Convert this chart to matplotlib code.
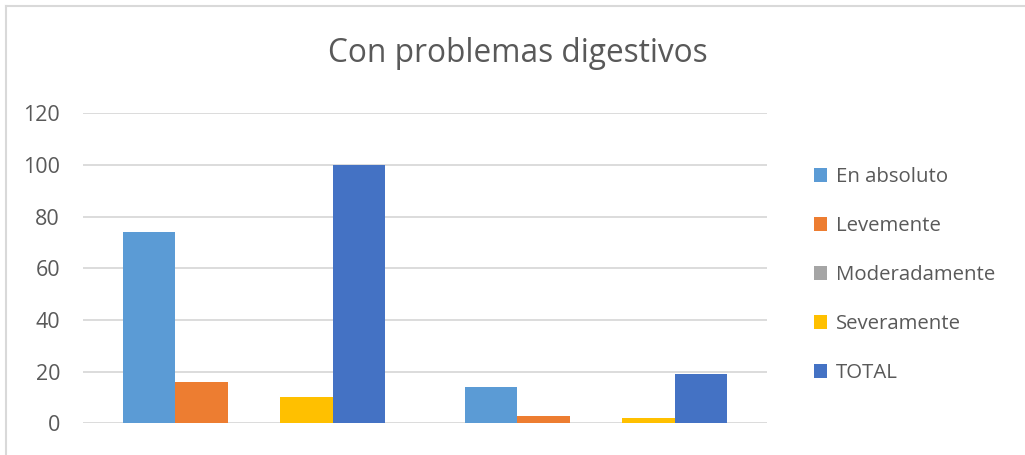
import numpy as np
import matplotlib.pyplot as plt
from matplotlib.lines import Line2D

plt.rcParams['font.family'] = ['Open Sans', 'DejaVu Sans']

# datos por grupo
grupos = ['', '']
series = ['En absoluto', 'Levemente', 'Moderadamente', 'Severamente', 'TOTAL']
en_absoluto = [74, 14]
levemente = [16, 3]
moderadamente = [0, 0]
severamente = [10, 2]
total = [100, 19]
valores = [en_absoluto, levemente, moderadamente, severamente, total]
colores = ['#5B9BD5', '#ED7D31', '#A5A5A5', '#FFC000', '#4472C4']

texto = '#595959'

fig = plt.figure(figsize=(10.25, 4.55), dpi=100)
ax = fig.add_axes([83 / 1025, 31.7 / 455, 684 / 1025, 310 / 455])

x = np.arange(len(grupos))
w = 0.1535
for i, (nombre, vals) in enumerate(zip(series, valores)):
    ax.bar(x + (i - 2) * w, vals, w, color=colores[i], label=nombre, zorder=3)

ax.set_xlim(-0.5, 1.5)
ax.set_ylim(0, 120)
ax.set_yticks(range(0, 121, 20))
ax.set_xticks([])
ax.grid(axis='y', color='#D9D9D9', linewidth=1.3, zorder=0)
for s in ax.spines.values():
    s.set_visible(False)
ax.tick_params(axis='y', length=0, pad=16.5, labelsize=15.5, labelcolor=texto)

fig.text(518 / 1025, 1 - 54 / 455, 'Con problemas digestivos', ha='center', va='center',
         fontsize=22.8, color=texto)

ax.legend(loc='upper left', bbox_to_anchor=(806 / 1025, 1 - 159 / 455),
          bbox_transform=fig.transFigure, frameon=False, fontsize=14.7,
          labelcolor=texto, handlelength=0.65, handleheight=0.65,
          handletextpad=0.4, labelspacing=1.42, borderaxespad=0)

# borde del área del gráfico (arriba e izquierda)
fig.add_artist(Line2D([6 / 1025, 1], [1 - 6 / 455, 1 - 6 / 455],
                      transform=fig.transFigure, color='#D9D9D9', lw=1.5))
fig.add_artist(Line2D([6 / 1025, 6 / 1025], [0, 1 - 6 / 455],
                      transform=fig.transFigure, color='#D9D9D9', lw=1.5))

fig.savefig('out.png', dpi=100)
